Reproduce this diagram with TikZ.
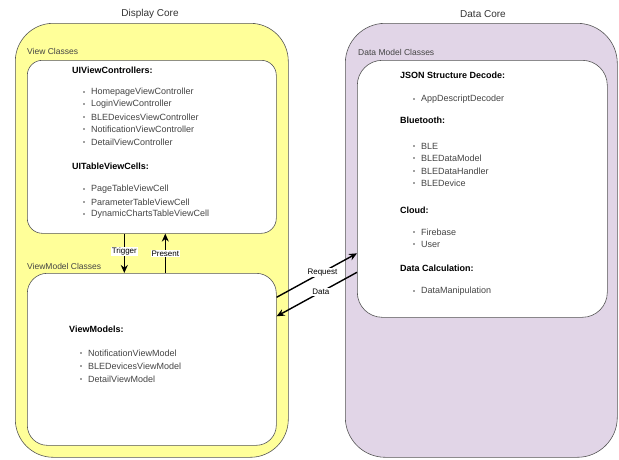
\documentclass[tikz,border=0pt]{standalone}
\usepackage{fontspec}
\setmainfont{Liberation Sans}
\usetikzlibrary{arrows.meta}
\definecolor{yel}{HTML}{FFFF99}
\definecolor{pur}{HTML}{E1D5E7}
\definecolor{strk}{HTML}{555555}
\definecolor{txt}{HTML}{333333}
\definecolor{itm}{HTML}{444444}
\tikzset{
  core/.style={draw=strk, line width=0.6pt, anchor=north west, inner sep=0pt, minimum width=#1},
  inbox/.style={draw=strk, line width=0.6pt, fill=white, anchor=north west, inner sep=0pt},
  ttl/.style={font=\fontsize{10}{12}\selectfont, text=txt, inner sep=0pt},
  grp/.style={font=\fontsize{8.5}{10}\selectfont, text=itm, anchor=west, inner sep=0pt},
  hd/.style={font=\fontsize{9}{10}\selectfont\bfseries, text=black, anchor=west, inner sep=0pt},
  itemtxt/.style={font=\fontsize{9}{10}\selectfont, text=itm, anchor=west, inner sep=0pt},
  bul/.style={fill=itm, circle, inner sep=0pt, minimum size=1.8pt},
  conn/.style={line width=1.4pt, -{Stealth[length=8pt,width=7pt]}},
  lbl/.style={font=\fontsize{8}{10}\selectfont, fill=white, inner sep=1pt, text=black}
}
\newcommand{\bitem}[4]{% name, x, y, text
  \node[bul] (#1b) at (#2,#3) {};
  \node[itemtxt] (#1) at (#2+7,#3) {#4};
}
\begin{document}
\begin{tikzpicture}[x=1pt,y=-1pt]
\useasboundingbox (0,0) rectangle (619,459);
% outer cores
\node[core=273pt, fill=yel, minimum height=434pt, rounded corners=38pt] (disp) at (15,23) {};
\node[core=272pt, fill=pur, minimum height=434pt, rounded corners=40pt] (datac) at (345,23) {};
\node[ttl] (dispt) at (150,14) {Display Core};
\node[ttl] (datat) at (483,14) {Data Core};
% inner boxes
\node[inbox, minimum width=249pt, minimum height=173pt, rounded corners=15pt] (vc) at (27,60) {};
\node[inbox, minimum width=249pt, minimum height=172pt, rounded corners=20pt] (vm) at (27,273) {};
\node[inbox, minimum width=250pt, minimum height=257pt, rounded corners=25pt] (dm) at (357,60) {};
% group labels
\node[grp] (vcl) at (27,51) {View Classes};
\node[grp] (vml) at (27,266) {ViewModel Classes};
\node[grp] (dml) at (358,52) {Data Model Classes};
% view controllers
\node[hd] (h1) at (72,70) {UIViewControllers:};
\bitem{a1}{84}{92}{HomepageViewController}
\bitem{a2}{84}{104}{LoginViewController}
\bitem{a3}{84}{117}{BLEDevicesViewController}
\bitem{a4}{84}{129}{NotificationViewController}
\bitem{a5}{84}{142}{DetailViewController}
\node[hd] (h2) at (72,166) {UITableViewCells:};
\bitem{b1}{84}{189}{PageTableViewCell}
\bitem{b2}{84}{202}{ParameterTableViewCell}
\bitem{b3}{84}{214}{DynamicChartsTableViewCell}
% view models
\node[hd] (h3) at (69,329) {ViewModels:};
\bitem{c1}{81}{353}{NotificationViewModel}
\bitem{c2}{81}{366}{BLEDevicesViewModel}
\bitem{c3}{81}{379}{DetailViewModel}
% data models
\node[hd] (h4) at (400,75) {JSON Structure Decode:};
\bitem{d1}{414}{99}{AppDescriptDecoder}
\node[hd] (h5) at (400,120) {Bluetooth:};
\bitem{e1}{414}{146}{BLE}
\bitem{e2}{414}{158}{BLEDataModel}
\bitem{e3}{414}{171}{BLEDataHandler}
\bitem{e4}{414}{183}{BLEDevice}
\node[hd] (h6) at (400,210) {Cloud:};
\bitem{f1}{414}{232}{Firebase}
\bitem{f2}{414}{244}{User}
\node[hd] (h7) at (400,268) {Data Calculation:};
\bitem{g1}{414}{291}{DataManipulation}
% connectors
\draw[conn] ([xshift=-27.5pt]vc.south) -- node[lbl, pos=0.45] (trg) {Trigger} ([xshift=-27.5pt]vm.north);
\draw[conn] ([xshift=13.5pt]vm.north) -- node[lbl, pos=0.5] (prs) {Present} ([xshift=13.5pt]vc.south);
\draw[conn] ([yshift=62pt]vm.east) -- node[lbl, pos=0.57] (req) {Request} ([yshift=-64.5pt]dm.west);
\draw[conn] ([yshift=-83.5pt]dm.west) -- node[lbl, pos=0.45] (dat) {Data} ([yshift=43pt]vm.east);
\end{tikzpicture}
\end{document}
